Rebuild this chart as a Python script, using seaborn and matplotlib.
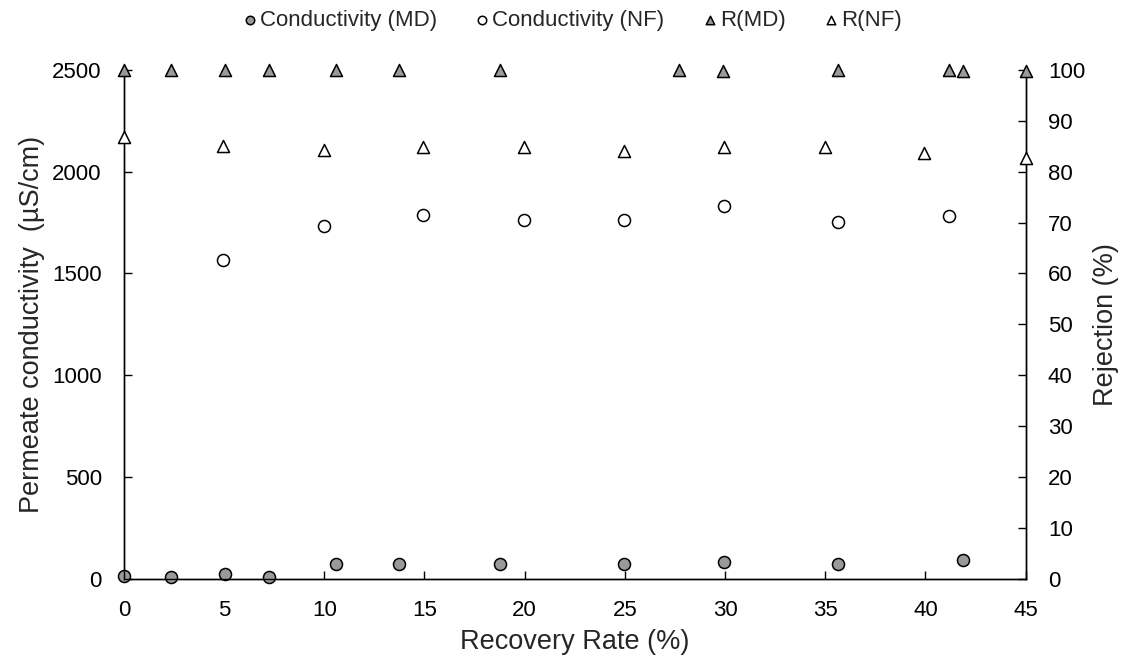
import matplotlib
matplotlib.use("Agg")
import matplotlib.pyplot as plt
import seaborn as sns
import pandas as pd

# Permeate conductivity (uS/cm)
md_x = [0, 2.33, 5.05, 7.26, 10.58, 13.73, 18.78, 24.95, 29.97, 35.65, 41.88]
md_cond = [13, 10, 23, 10, 75, 75, 75, 74, 85, 75, 95]

nf_x = [4.96, 10.0, 14.94, 19.99, 24.95, 29.97, 35.65, 41.16]
nf_cond = [1568, 1735, 1789, 1763, 1763, 1833, 1753, 1781]

# Rejection (%)
rmd_x = [0, 2.33, 5.05, 7.26, 10.58, 13.73, 18.78, 27.7, 29.88, 35.65, 41.16, 41.88, 45]
rmd = [100, 100, 100, 100, 100, 100, 100, 100, 99.7, 100, 100, 99.7, 99.7]

rnf_x = [0, 4.96, 10.0, 14.94, 19.99, 24.95, 29.97, 34.99, 39.95, 45]
rnf = [86.7, 85.0, 84.3, 84.8, 84.8, 84.0, 84.8, 84.8, 83.7, 82.7]

sns.set_style("ticks")
plt.rcParams["font.family"] = ["Liberation Sans", "DejaVu Sans"]

GRAY = "#9a9a9a"

fig, ax = plt.subplots(figsize=(11.37, 6.64), dpi=100)
fig.subplots_adjust(left=0.109, right=0.902, bottom=0.128, top=0.895)
ax2 = ax.twinx()

common = dict(s=75, edgecolor="black", linewidth=1.1, clip_on=False, zorder=5)

sns.scatterplot(data=pd.DataFrame({"x": md_x, "y": md_cond}), x="x", y="y", ax=ax,
                marker="o", color=GRAY, label="Conductivity (MD)", **common)
sns.scatterplot(data=pd.DataFrame({"x": nf_x, "y": nf_cond}), x="x", y="y", ax=ax,
                marker="o", color="white", label="Conductivity (NF)", **common)
sns.scatterplot(data=pd.DataFrame({"x": rmd_x, "y": rmd}), x="x", y="y", ax=ax2,
                marker="^", color=GRAY, label="R(MD)", **common)
sns.scatterplot(data=pd.DataFrame({"x": rnf_x, "y": rnf}), x="x", y="y", ax=ax2,
                marker="^", color="white", label="R(NF)", **common)

ax.set_xlim(0, 45)
ax.set_ylim(0, 2500)
ax2.set_ylim(0, 100)
ax.set_xticks(range(0, 46, 5))
ax.set_yticks(range(0, 2501, 500))
ax2.set_yticks(range(0, 101, 10))

ax.set_xlabel("Recovery Rate (%)", fontsize=19.5, labelpad=6)
ax.set_ylabel("Permeate conductivity  (µS/cm)", fontsize=19.5, labelpad=5)
ax2.set_ylabel("Rejection (%)", fontsize=19.5, labelpad=6)

for a in (ax, ax2):
    a.spines["top"].set_visible(False)
    for s in a.spines.values():
        s.set_linewidth(1.0)
        s.set_color("black")
    a.tick_params(direction="in", length=6, width=1.0, labelsize=16, colors="black")
ax.tick_params(axis="x", pad=15)
ax.tick_params(axis="y", pad=16)
ax2.tick_params(axis="y", pad=16)

h1, l1 = ax.get_legend_handles_labels()
h2, l2 = ax2.get_legend_handles_labels()
ax.get_legend().remove()
ax2.get_legend().remove()
fig.legend(h1 + h2, l1 + l2, loc="upper center", bbox_to_anchor=(0.503, 1.015), ncol=4,
           frameon=False, fontsize=16, handletextpad=0.1, handlelength=0.7,
           columnspacing=1.7, markerscale=0.7)

fig.savefig("out.png", dpi=100)
